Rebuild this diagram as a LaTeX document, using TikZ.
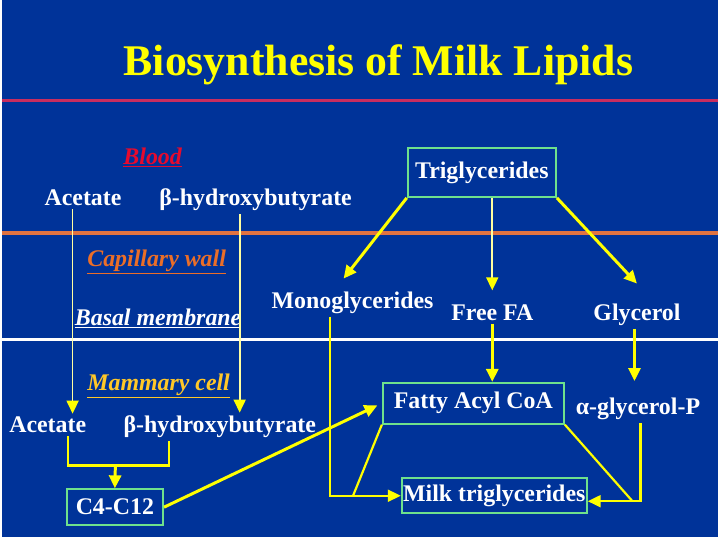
\documentclass[tikz,border=0pt]{standalone}
\usepackage{fontspec}
\setmainfont{Liberation Serif}
\usetikzlibrary{arrows.meta, positioning}

\definecolor{slideblue}{RGB}{0,51,153}
\definecolor{titleyellow}{RGB}{255,255,0}
\definecolor{arrowyellow}{RGB}{255,255,0}
\definecolor{paleyellow}{RGB}{255,255,160}
\definecolor{boxgreen}{RGB}{110,225,140}
\definecolor{rulered}{RGB}{200,45,95}
\definecolor{ruleorange}{RGB}{225,115,65}
\definecolor{bloodred}{RGB}{230,10,45}
\definecolor{caporange}{RGB}{235,110,40}
\definecolor{cellgold}{RGB}{255,200,40}

\begin{document}
\begin{tikzpicture}[
  x=1pt, y=-1pt,
  term/.style={text=white, font=\fontsize{24}{28}\selectfont\bfseries, inner sep=3pt, anchor=base},
  region/.style={font=\fontsize{24}{28}\selectfont\bfseries\itshape, inner sep=3pt, anchor=base},
  box/.style={draw=boxgreen, line width=2pt, text=white, font=\fontsize{24}{28}\selectfont\bfseries, inner sep=0pt},
  arrow/.style={draw=arrowyellow, line width=3pt, -{Triangle[width=12pt,length=13pt]}},
  link/.style={draw=arrowyellow, line width=2.2pt},
  thinline/.style={draw=paleyellow, line width=1.8pt},
  tip/.style={-{Triangle[width=12pt,length=13pt,color=arrowyellow]}}
]
\fill[slideblue] (0,0) rectangle (720,540);

\node[text=titleyellow, font=\fontsize{44}{48}\selectfont\bfseries, inner sep=0pt, anchor=base] (title) at (378.5,76) {Biosynthesis of Milk Lipids};

% layer boundaries
\draw[rulered, line width=3pt] (0,101) -- (720,101);
\draw[ruleorange, line width=4pt] (0,234) -- (720,234);
\draw[white, line width=3pt] (0,341) -- (720,341);

\node[region, text=bloodred] (blood) at (151.5,165) {\underline{Blood}};
\node[region, text=caporange] (capwall) at (155.5,268) {\underline{Capillary wall}};
\node[region, text=white] (basal) at (157,327) {\underline{Basal membrane}};
\node[region, text=cellgold] (mammary) at (157.5,393) {\underline{Mammary cell}};

\node[box, minimum width=149pt, minimum height=49pt] (tg) at (482.5,173.5) {Triglycerides};
\node[term] (acetB) at (81.5,207) {Acetate};
\node[term] (bhbB) at (255,207) {β-hydroxybutyrate};

\node[term] (mono) at (352.5,310) {Monoglycerides};
\node[term] (ffa) at (493,322) {Free FA};
\node[term] (gly) at (638.5,322) {Glycerol};

\node[term] (acetM) at (46,435) {Acetate};
\node[term] (bhbM) at (219,435) {β-hydroxybutyrate};
\node[box, minimum width=182pt, minimum height=41pt] (fac) at (474,405.5) {Fatty Acyl CoA};
\node[term] (aglyP) at (639.5,417) {α-glycerol-P};

\node[box, minimum width=97pt, minimum height=36pt] (c4) at (113.5,510) {C4-C12};
\node[box, minimum width=186pt, minimum height=35pt] (milk) at (495,498.5) {Milk triglycerides};

\coordinate (merge) at (114,468);
\coordinate (joinL) at (353,498.5);
\coordinate (joinR) at (634,504);

% blood -> mammary cell
\draw[thinline, tip] ([xshift=-10.5pt]acetB.south) -- ([xshift=-10.5pt]acetB.south |- acetM.north);
\draw[thinline, tip] ([xshift=-16pt]bhbB.south) -- ([xshift=-16pt]bhbB.south |- bhbM.north);

\draw[link] ([xshift=20pt]acetM.south) |- (merge);
\draw[link] ([xshift=-51pt]bhbM.south) |- (merge);
\draw[arrow] (merge) -- (c4.north);
\draw[arrow, shorten >=5pt] (c4.east) -- (fac.west);

% triglyceride hydrolysis
\draw[arrow] (tg.south west) -- ([xshift=-9pt,yshift=10pt]mono.north);
\draw[thinline, tip, shorten >=11pt] (tg.south -| ffa.north) -- (ffa.north);
\draw[arrow] (tg.south east) -- ([yshift=17pt]gly.north);

\draw[arrow] (ffa.south) -- (ffa.south |- fac.north);
\draw[arrow, shorten >=14pt] ([xshift=-2.5pt]gly.south) -- ([xshift=-2.5pt]gly.south |- aglyP.north);

% esterification
\draw[link, tip] ([xshift=-22.5pt]mono.south) |- (milk.west);
\draw[link] (fac.south west) -- (joinL);
\draw[link] (fac.south east) -- (joinR);
\draw[link, tip] ([xshift=2.5pt]aglyP.south) |- ([yshift=-5.5pt]milk.east);
\end{tikzpicture}
\end{document}
